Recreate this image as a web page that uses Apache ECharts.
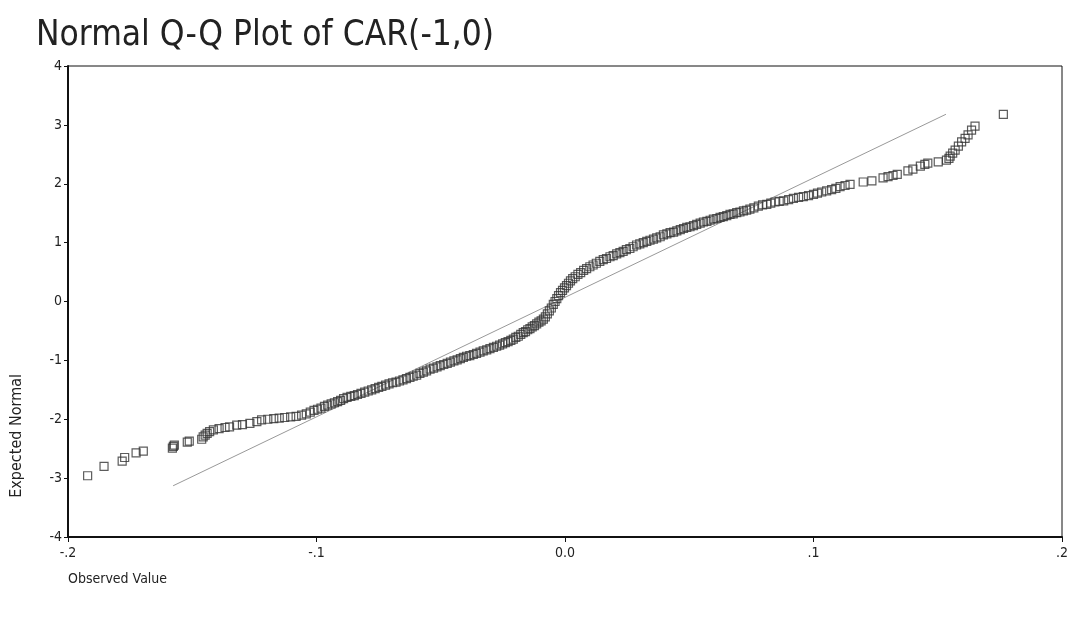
<!DOCTYPE html>
<html>
<head>
<meta charset="utf-8">
<script src="https://cdn.jsdelivr.net/npm/echarts@6/dist/echarts.min.js"></script>
<style>
  html, body { margin: 0; padding: 0; background: #fff; }
  #chart { width: 1074px; height: 620px; }
</style>
</head>
<body>
<div id="chart"></div>
<script>
var observed = [
  -0.1921, -0.1855, -0.1782, -0.1772, -0.1726, -0.1697, -0.1580, -0.1576, -0.1572, -0.1520,
  -0.1512, -0.1462, -0.1456, -0.1448, -0.1440, -0.1430, -0.1415, -0.1392, -0.1368, -0.1350,
  -0.1321, -0.1298, -0.1268, -0.1240, -0.1221, -0.1196, -0.1172, -0.1150, -0.1128, -0.1104,
  -0.1082, -0.1060, -0.1041, -0.1025, -0.1010, -0.0996, -0.0982, -0.0968, -0.0955, -0.0941,
  -0.0928, -0.0915, -0.0903, -0.0891, -0.0877, -0.0862, -0.0848, -0.0835, -0.0821, -0.0806,
  -0.0792, -0.0778, -0.0764, -0.0750, -0.0737, -0.0722, -0.0708, -0.0694, -0.0680, -0.0666,
  -0.0652, -0.0638, -0.0624, -0.0611, -0.0597, -0.0584, -0.0570, -0.0557, -0.0543, -0.0529,
  -0.0515, -0.0502, -0.0488, -0.0474, -0.0461, -0.0447, -0.0434, -0.0421, -0.0409, -0.0396,
  -0.0383, -0.0369, -0.0356, -0.0342, -0.0329, -0.0315, -0.0302, -0.0288, -0.0275, -0.0263,
  -0.0251, -0.0240, -0.0229, -0.0218, -0.0208, -0.0198, -0.0188, -0.0178, -0.0168, -0.0159,
  -0.0150, -0.0141, -0.0132, -0.0123, -0.0114, -0.0105, -0.0096, -0.0087, -0.0079, -0.0071,
  -0.0063, -0.0055, -0.0047, -0.0040, -0.0033, -0.0026, -0.0018, -0.0010, -0.0002, 0.0006,
  0.0014, 0.0022, 0.0031, 0.0041, 0.0052, 0.0063, 0.0075, 0.0087, 0.0100, 0.0113,
  0.0126, 0.0140, 0.0154, 0.0167, 0.0181, 0.0194, 0.0208, 0.0221, 0.0234, 0.0247,
  0.0261, 0.0274, 0.0288, 0.0301, 0.0315, 0.0329, 0.0342, 0.0356, 0.0369, 0.0383,
  0.0396, 0.0410, 0.0423, 0.0437, 0.0450, 0.0464, 0.0477, 0.0490, 0.0503, 0.0517,
  0.0530, 0.0544, 0.0557, 0.0571, 0.0584, 0.0597, 0.0611, 0.0624, 0.0637, 0.0651,
  0.0664, 0.0677, 0.0691, 0.0704, 0.0718, 0.0731, 0.0744, 0.0760, 0.0778, 0.0795,
  0.0812, 0.0828, 0.0845, 0.0862, 0.0880, 0.0900, 0.0919, 0.0940, 0.0959, 0.0980,
  0.1000, 0.1016, 0.1033, 0.1053, 0.1073, 0.1090, 0.1107, 0.1127, 0.1147, 0.1200,
  0.1235, 0.1280, 0.1300, 0.1320, 0.1337, 0.1380, 0.1400, 0.1430, 0.1448, 0.1460,
  0.1502, 0.1535, 0.1545, 0.1550, 0.1560, 0.1570, 0.1583, 0.1596, 0.1610, 0.1622,
  0.1636, 0.1650, 0.1764
];
var expected = [
  -2.96, -2.80, -2.71, -2.65, -2.57, -2.54, -2.49, -2.46, -2.44, -2.39,
  -2.37, -2.34, -2.30, -2.27, -2.24, -2.21, -2.18, -2.16, -2.14, -2.13,
  -2.10, -2.09, -2.07, -2.04, -2.01, -2.00, -1.99, -1.98, -1.97, -1.96,
  -1.95, -1.93, -1.91, -1.88, -1.85, -1.83, -1.81, -1.78, -1.76, -1.74,
  -1.72, -1.70, -1.68, -1.65, -1.63, -1.61, -1.60, -1.58, -1.56, -1.54,
  -1.52, -1.50, -1.48, -1.46, -1.44, -1.42, -1.40, -1.38, -1.37, -1.35,
  -1.33, -1.31, -1.29, -1.27, -1.25, -1.22, -1.20, -1.18, -1.15, -1.13,
  -1.11, -1.09, -1.07, -1.05, -1.03, -1.01, -0.99, -0.97, -0.95, -0.93,
  -0.92, -0.90, -0.88, -0.86, -0.84, -0.82, -0.80, -0.78, -0.76, -0.74,
  -0.72, -0.70, -0.68, -0.66, -0.64, -0.61, -0.59, -0.56, -0.53, -0.51,
  -0.48, -0.46, -0.43, -0.41, -0.38, -0.35, -0.33, -0.30, -0.26, -0.21,
  -0.16, -0.11, -0.05, 0.00, 0.05, 0.10, 0.15, 0.19, 0.23, 0.27,
  0.31, 0.35, 0.39, 0.42, 0.46, 0.49, 0.53, 0.56, 0.59, 0.62,
  0.65, 0.68, 0.71, 0.73, 0.76, 0.78, 0.81, 0.83, 0.85, 0.88,
  0.90, 0.93, 0.96, 0.98, 1.00, 1.02, 1.04, 1.06, 1.08, 1.10,
  1.13, 1.15, 1.17, 1.18, 1.20, 1.22, 1.24, 1.26, 1.27, 1.29,
  1.31, 1.33, 1.35, 1.36, 1.38, 1.40, 1.41, 1.43, 1.44, 1.46,
  1.48, 1.49, 1.51, 1.52, 1.54, 1.55, 1.57, 1.59, 1.62, 1.64,
  1.65, 1.67, 1.69, 1.70, 1.71, 1.73, 1.75, 1.77, 1.78, 1.80,
  1.82, 1.84, 1.86, 1.88, 1.90, 1.92, 1.95, 1.97, 1.99, 2.03,
  2.05, 2.10, 2.12, 2.14, 2.16, 2.22, 2.25, 2.30, 2.33, 2.35,
  2.37, 2.40, 2.43, 2.47, 2.52, 2.57, 2.64, 2.71, 2.77, 2.83,
  2.91, 2.98, 3.18
];
// reference (normal) line end points
var refX = [-0.1577, 0.1533];
var refY = [-3.13, 3.18];

var xTicks = ['-.2', '-.1', '0.0', '.1', '.2'];

var points = observed.map(function (v, i) { return [v, expected[i]]; });
var refLine = refX.map(function (v, i) { return [v, refY[i]]; });

var font = "'DejaVu Sans Condensed', 'DejaVu Sans', sans-serif";

var chart = echarts.init(document.getElementById('chart'), null, { renderer: 'canvas' });
chart.setOption({
  animation: false,
  backgroundColor: '#fff',
  title: {
    text: 'Normal Q-Q Plot of CAR(-1,0)',
    left: 31, top: 13,
    textStyle: { fontFamily: font, fontSize: 35, fontWeight: 'normal', color: '#222' }
  },
  grid: {
    left: 68, right: 12, top: 66, bottom: 83,
    show: true, borderColor: '#111', borderWidth: 1, backgroundColor: '#fff'
  },
  xAxis: {
    type: 'value', min: -0.2, max: 0.2, interval: 0.1,
    axisLine: { show: true, onZero: false, lineStyle: { color: '#111', width: 2 } },
    axisTick: { show: true, length: 5, lineStyle: { color: '#111' } },
    splitLine: { show: false },
    axisLabel: {
      margin: 9, color: '#222', fontFamily: font, fontSize: 14,
      formatter: function (v) { return xTicks[Math.round((v + 0.2) * 10)]; }
    }
  },
  yAxis: {
    type: 'value', min: -4, max: 4, interval: 1,
    axisLine: { show: true, onZero: false, lineStyle: { color: '#111', width: 2 } },
    axisTick: { show: true, length: 4, lineStyle: { color: '#111' } },
    splitLine: { show: false },
    axisLabel: { margin: 6, color: '#222', fontFamily: font, fontSize: 14 }
  },
  graphic: [
    {
      type: 'text', left: 9, top: 374, rotation: Math.PI / 2,
      style: { text: 'Expected Normal', font: "16px 'DejaVu Sans Condensed', 'DejaVu Sans', sans-serif", fill: '#222' }
    },
    {
      type: 'text', left: 68, top: 572,
      style: { text: 'Observed Value', font: "14px 'DejaVu Sans Condensed', 'DejaVu Sans', sans-serif", fill: '#222' }
    }
  ],
  series: [
    {
      type: 'line', data: refLine, symbol: 'none', silent: true,
      lineStyle: { color: '#999', width: 1 }, z: 1
    },
    {
      type: 'scatter', data: points, symbol: 'rect', symbolSize: 8,
      itemStyle: { color: 'rgba(255,255,255,0)', borderColor: '#333', borderWidth: 1.2 }, z: 2
    }
  ]
});
</script>
</body>
</html>
